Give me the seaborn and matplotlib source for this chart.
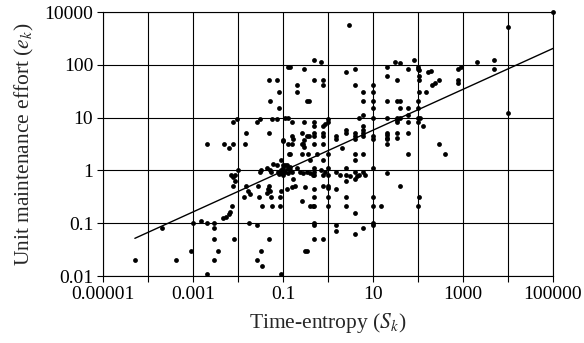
import numpy as np
import pandas as pd
import matplotlib
matplotlib.use("Agg")
import matplotlib.pyplot as plt
import seaborn as sns

# Time-entropy S_k (x) and unit maintenance effort e_k (y)
entropy = [
    # far left
    5.1e-5, 2.0e-4, 4.1e-4,
    # 0.001 - 0.1, upper part
    0.0079, 0.0093, 0.05, 0.072, 0.082, 0.051, 0.082, 0.027, 0.031, 0.0575, 0.075,
    # 0.001 - 0.1, lower part
    0.002, 0.005, 0.0062, 0.0076, 0.0153, 0.0143, 0.05, 0.098, 0.01, 0.0069,
    0.0076, 0.0087, 0.0087, 0.0079, 0.0153, 0.0164, 0.0182, 0.0134, 0.028, 0.03,
    0.031, 0.033, 0.045, 0.051, 0.055, 0.061, 0.072, 0.091, 0.079, 0.082,
    0.091, 0.091, 0.05, 0.047, 0.051, 0.055, 0.045, 0.086, 0.091, 0.035,
    0.0575, 0.086, 0.0072, 0.0047, 0.0053, 0.0062, 0.0066, 0.001, 0.0015, 0.002,
    0.003, 0.003, 0.0173, 0.027, 0.003, 0.0082, 0.05, 0.0009, 0.0036, 0.033,
    0.003, 0.027, 0.035, 0.002, 0.091,
    # 0.1 - 10, upper part
    3.0, 0.5, 0.71, 0.131, 0.145, 0.30, 2.5, 4.0, 0.5, 0.79,
    0.79, 0.2, 0.2, 4.0, 6.1, 10, 10, 0.347, 0.384, 6.1,
    10, 10, 0.111, 0.131, 0.156, 0.30, 0.5, 0.857, 0.98, 1.0,
    5.0, 6.1, 10,
    # 0.1 - 10, middle band
    0.1, 0.131, 0.156, 0.26, 0.283, 0.30, 0.5, 0.79, 0.156, 0.164,
    0.26, 0.5, 0.5, 0.79, 0.79, 0.30, 0.336, 0.384, 1.5, 1.5,
    2.5, 2.5, 4.0, 4.0, 4.0, 6.1, 6.1, 10, 10, 6.1,
    6.1, 0.79, 0.5, 2.0, 0.138, 0.145, 0.26, 0.365, 0.57, 1.0,
    4.0, 6.1, 4.0, 0.405, 0.79, 0.1, 0.121, 0.145,
    # 0.1 - 10, lower part
    0.1, 0.111, 0.131, 0.145, 0.156, 0.111, 0.131, 0.1, 0.2, 0.239,
    0.283, 0.336, 0.405, 0.471, 0.169, 0.156, 0.185, 0.308, 0.121, 0.5,
    0.5, 0.5, 0.71, 0.79, 0.857, 1.0, 1.0, 0.79, 1.0, 1.5,
    1.85, 2.5, 2.5, 3.1, 2.5, 4.0, 4.3, 5.0, 4.0, 6.1,
    6.6, 10, 0.5, 0.5, 0.5, 1.0, 1.0, 1.0, 1.5, 2.5,
    2.5, 4.0, 10, 10, 0.26, 0.405, 0.471, 0.5, 0.5, 1.5,
    1.5, 4.0, 6.1, 10, 10, 0.5, 0.79, 0.308, 0.347,
    # above 10, upper part
    31, 40, 81, 20, 61, 100, 100, 105, 169, 190,
    790, 900, 20, 35, 105, 105, 200, 240, 300, 790,
    790, 105, 150, 20, 35, 40, 100, 40, 61, 100,
    20, 35, 40, 61, 100, 111, 35, 35, 61, 100,
    126, 1e5, 1e4, 2000, 4900, 4900, 1e4,
    # above 10, lower part
    20, 20, 20, 20, 20, 35, 35, 61, 61, 300, 400, 20, 40, 105, 100, 15,
]

effort = [
    0.02, 0.082, 0.02,
    8.1, 9.3, 51, 51, 31, 20.6, 15.4, 8.4, 9.3, 9.3, 9.3,
    3.1, 3.1, 2.6, 3.1, 5.2, 3.1, 5.2, 3.7, 1.0, 0.83,
    0.74, 0.83, 0.62, 0.51, 0.51, 0.41, 0.36, 0.32, 0.51, 0.32,
    0.95, 1.0, 1.1, 1.0, 0.95, 1.3, 1.25, 1.55, 0.95, 0.85,
    0.91, 1.0, 0.51, 0.44, 0.40, 0.32, 0.37, 0.32, 0.40, 0.21,
    0.21, 0.21, 0.21, 0.124, 0.133, 0.147, 0.165, 0.1, 0.111, 0.1,
    0.1, 0.082, 0.1, 0.093, 0.05, 0.05, 0.05, 0.03, 0.03, 0.03,
    0.02, 0.02, 0.0155, 0.011, 0.011,
    560, 123, 112, 92, 92, 82, 72, 82, 51, 51,
    41, 41, 31, 41, 31, 41, 31, 20.6, 20.6, 20.6,
    20.6, 15.4, 10, 10, 8.1, 8.1, 8.1, 7.6, 8.1, 9.3,
    10, 11, 10,
    3.6, 3.1, 3.1, 3.1, 3.1, 2.8, 3.1, 3.1, 4.4, 3.9,
    5.2, 5.2, 4.4, 5.2, 4.4, 3.7, 4.4, 4.4, 4.4, 3.9,
    5.7, 5.2, 5.2, 4.4, 3.9, 5.05, 4.4, 4.4, 3.9, 7.0,
    5.7, 6.9, 7.0, 2.6, 2.06, 2.06, 2.06, 2.06, 2.06, 2.06,
    2.06, 2.06, 1.55, 1.55, 1.55, 1.25, 1.25, 1.17,
    1.1, 1.25, 1.1, 1.0, 0.95, 0.95, 0.89, 0.83, 1.1, 0.95,
    0.89, 0.95, 0.89, 0.83, 0.68, 0.49, 0.51, 0.49, 0.44, 1.1,
    0.95, 0.83, 1.0, 0.83, 0.95, 1.1, 0.83, 0.51, 0.51, 0.95,
    0.83, 1.1, 0.83, 0.78, 0.62, 0.95, 0.78, 0.83, 0.68, 0.95,
    0.83, 1.1, 0.44, 0.32, 0.21, 0.32, 0.21, 0.46, 0.44, 0.32,
    0.21, 0.154, 0.32, 0.21, 0.26, 0.21, 0.21, 0.1, 0.093, 0.093,
    0.071, 0.062, 0.082, 0.1, 0.093, 0.05, 0.05, 0.03, 0.03,
    112, 107, 123, 92, 82, 92, 82, 80, 72, 76,
    82, 92, 61, 51, 61, 51, 41, 46, 51, 51,
    46, 31, 31, 20.6, 20.6, 20.6, 20.6, 15.4, 15.4, 15.4,
    10, 10, 10, 11, 10, 10, 9.0, 8.1, 8.1, 8.4,
    7.0, 1000, 510, 112, 123, 82, 12.4,
    5.2, 4.7, 4.15, 3.9, 3.1, 5.2, 4.05, 5.2, 2.06, 3.1, 2.06, 0.91, 0.51, 0.32, 0.21, 0.21,
]

# power-law trend line e = coef * S^exp
trend_coef = 2.37
trend_exp = 0.387

x_ticks = [1e-5, 1e-4, 1e-3, 1e-2, 1e-1, 1, 10, 100, 1e3, 1e4, 1e5]
x_labels = ["0.00001", "", "0.001", "", "0.1", "", "10", "", "1000", "", "100000"]
y_ticks = [0.01, 0.1, 1, 10, 100, 1000]
y_labels = ["0.01", "0.1", "1", "10", "100", "10000"]

sns.set_theme(style="ticks")
plt.rcParams["font.family"] = ["Liberation Serif", "DejaVu Serif"]
plt.rcParams["mathtext.fontset"] = "stix"

df = pd.DataFrame({"S": entropy, "e": effort})
s_line = np.array([min(entropy), max(entropy)])
trend = pd.DataFrame({"S": s_line, "e": trend_coef * s_line ** trend_exp})

fig = plt.figure(figsize=(5.84, 3.43), dpi=100)
ax = fig.add_axes([0.1764, 0.1953, 0.7705, 0.7697])

ax.set_xscale("log")
ax.set_yscale("log")
ax.set_xlim(1e-5, 1e5)
ax.set_ylim(0.01, 1000)

ax.set_xticks(x_ticks)
ax.set_xticklabels(x_labels)
ax.set_yticks(y_ticks)
ax.set_yticklabels(y_labels)
ax.minorticks_off()
ax.grid(True, color="black", linewidth=0.8)
ax.set_axisbelow(True)

sns.lineplot(data=trend, x="S", y="e", color="black", linewidth=1.0, ax=ax)
sns.scatterplot(data=df, x="S", y="e", color="black", s=12, linewidth=0,
                clip_on=False, ax=ax, zorder=3)

for sp in ax.spines.values():
    sp.set_color("black")
    sp.set_linewidth(0.8)
ax.tick_params(direction="out", length=4, width=0.8, colors="black",
               labelsize=14, pad=3)

ax.set_xlabel(r"Time-entropy ($S_k$)", fontsize=15.5, labelpad=6)
ax.set_ylabel(r"Unit maintenance effort ($e_k$)", fontsize=15.5, labelpad=6)

fig.savefig("out.png", dpi=100)
